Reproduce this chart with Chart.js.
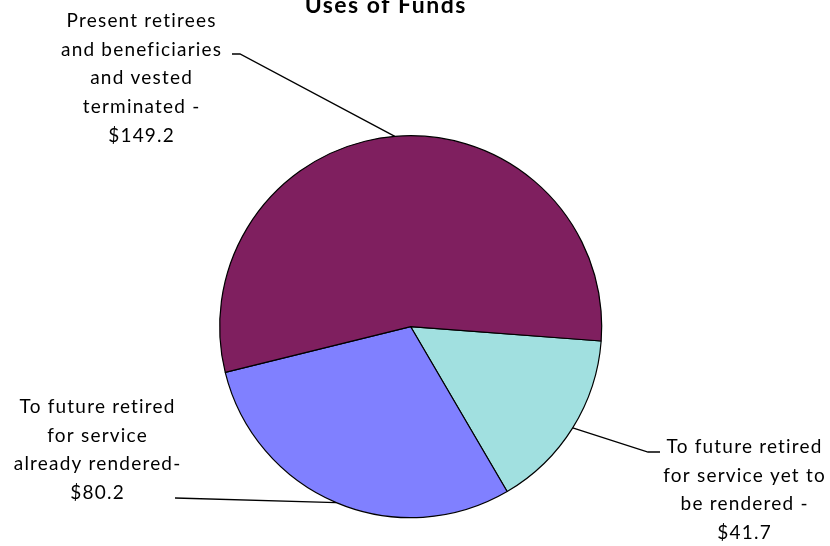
<!DOCTYPE html>
<html>
<head>
<meta charset="utf-8">
<script src="https://cdn.jsdelivr.net/npm/chart.js@4.4.0/dist/chart.umd.min.js"></script>
<style>
  html, body { margin: 0; padding: 0; background: #fff; }
</style>
</head>
<body>
<canvas id="pieChart" width="830" height="546"></canvas>
<script>
const chartTitle = "Uses of Funds";
const categories = [
  "To future retired for service yet to be rendered",
  "To future retired for service already rendered",
  "Present retirees and beneficiaries and vested terminated",
];
const values = [41.7, 80.2, 149.2];
const labelLines = [
  ["To future retired", "for service yet to", "be rendered -"],
  ["To future retired", "for service", "already rendered-"],
  ["Present retirees", "and beneficiaries", "and vested", "terminated -"],
];
const sliceColors = ["#a1e0e0", "#8080ff", "#7f1f5f"];

const FONT = "Lato, 'Open Sans', sans-serif";
const LINE_H = 28.7;

// where each label sits and how its leader line bends
const labelLayout = [
  { cx: 744, top: 453, elbow: [[660, 452], [648, 452]] },
  { cx: 97, top: 413, elbow: [[175, 498]] },
  { cx: 141, top: 27, elbow: [[232, 54], [240, 54]] },
];

const money = (v) => `$${v.toFixed(1)}`;

function spacedText(ctx, text, cx, y, spacing) {
  ctx.letterSpacing = `${spacing}px`;
  const w = ctx.measureText(text).width - spacing;
  ctx.textAlign = "left";
  ctx.fillText(text, cx - w / 2, y);
}

const labelsPlugin = {
  id: "pieLabels",
  afterDraw(chart) {
    const ctx = chart.ctx;
    const meta = chart.getDatasetMeta(0);
    ctx.save();
    ctx.fillStyle = "#000";
    ctx.textBaseline = "alphabetic";

    ctx.font = `bold 23px ${FONT}`;
    spacedText(ctx, chartTitle, 385, 13, 1.5);

    ctx.font = `19px ${FONT}`;
    meta.data.forEach((arc, i) => {
      const { x, y, startAngle, endAngle, outerRadius } = arc.getProps(
        ["x", "y", "startAngle", "endAngle", "outerRadius"], true);
      const mid = (startAngle + endAngle) / 2;
      const ax = x + Math.cos(mid) * outerRadius;
      const ay = y + Math.sin(mid) * outerRadius;
      const lay = labelLayout[i];

      ctx.strokeStyle = "#000";
      ctx.lineWidth = 1.3;
      ctx.beginPath();
      ctx.moveTo(lay.elbow[0][0], lay.elbow[0][1]);
      lay.elbow.slice(1).forEach((p) => ctx.lineTo(p[0], p[1]));
      ctx.lineTo(ax, ay);
      ctx.stroke();

      const lines = [...labelLines[i], money(values[i])];
      lines.forEach((t, k) => spacedText(ctx, t, lay.cx, lay.top + k * LINE_H, 1.2));
    });
    ctx.restore();
  },
};

new Chart(document.getElementById("pieChart"), {
  type: "pie",
  data: {
    labels: categories,
    datasets: [{
      data: values,
      backgroundColor: sliceColors,
      borderColor: "#000",
      borderWidth: 1.2,
      radius: 191,
      hoverOffset: 0,
    }],
  },
  options: {
    responsive: false,
    animation: false,
    rotation: 94.3,
    layout: { padding: { left: 0, right: 8.6, top: 107.4, bottom: 0 } },
    plugins: {
      legend: { display: false },
      tooltip: { enabled: false },
      title: { display: false },
    },
  },
  plugins: [labelsPlugin],
});
</script>
</body>
</html>
